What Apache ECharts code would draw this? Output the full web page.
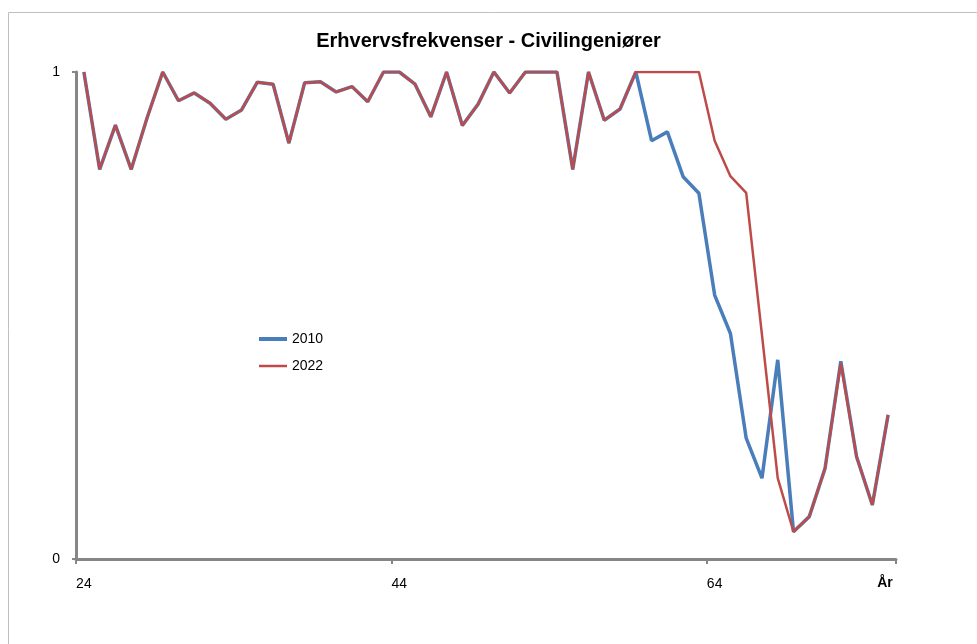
<!DOCTYPE html>
<html>
<head>
<meta charset="utf-8">
<script src="https://cdn.jsdelivr.net/npm/echarts@6/dist/echarts.min.js"></script>
<style>
html,body{margin:0;padding:0;background:#fff;}
#chart{width:977px;height:644px;}
</style>
</head>
<body>
<div id="chart"></div>
<script>
var ages = [];
for (var a = 24; a <= 75; a++) ages.push(String(a));

var series2010 = [
  1, 0.80, 0.891, 0.80, 0.905, 1, 0.941, 0.957, 0.936, 0.903,
  0.922, 0.979, 0.975, 0.854, 0.978, 0.980, 0.959, 0.970, 0.939, 1,
  1, 0.975, 0.908, 1, 0.890, 0.934, 1, 0.957, 1, 1,
  1, 0.80, 1, 0.901, 0.924, 1, 0.859, 0.877, 0.785, 0.751,
  0.542, 0.463, 0.248, 0.166, 0.409, 0.056, 0.087, 0.186, 0.406, 0.210,
  0.111, 0.296
];
var series2022 = [
  1, 0.80, 0.891, 0.80, 0.905, 1, 0.941, 0.957, 0.936, 0.903,
  0.922, 0.979, 0.975, 0.854, 0.978, 0.980, 0.959, 0.970, 0.939, 1,
  1, 0.975, 0.908, 1, 0.890, 0.934, 1, 0.957, 1, 1,
  1, 0.80, 1, 0.901, 0.924, 1, 1, 1, 1, 1,
  0.859, 0.786, 0.752, 0.46, 0.166, 0.056, 0.087, 0.186, 0.402, 0.210,
  0.111, 0.296
];
var seriesNames = ['2010', '2022'];
var titleText = 'Erhvervsfrekvenser - Civilingeniører';
var xAxisName = 'År';

var chart = echarts.init(document.getElementById('chart'), null, {renderer: 'canvas'});
var font = '"Liberation Sans", "DejaVu Sans", sans-serif';
chart.setOption({
  animation: false,
  backgroundColor: '#ffffff',
  graphic: [{
    type: 'rect', shape: {x: 8.5, y: 12.5, width: 1000, height: 700},
    style: {fill: 'none', stroke: '#bfbfbf', lineWidth: 1}, silent: true, z: -10
  }],
  title: {
    text: titleText, left: 'center', top: 26,
    textStyle: {fontFamily: font, fontSize: 20, fontWeight: 'bold', color: '#000'}
  },
  legend: {
    orient: 'vertical', left: 254, top: 327, itemGap: 13,
    itemWidth: 28, itemHeight: 14,
    itemStyle: {borderWidth: 0},
    textStyle: {fontFamily: font, fontSize: 14, color: '#000'},
    data: [
      {name: seriesNames[0], icon: 'path://M0,0L28,0M0,14L28,14M0,5H28V9H0Z'},
      {name: seriesNames[1], icon: 'path://M0,0L28,0M0,14L28,14M0,5.7H28V8.3H0Z'}
    ]
  },
  grid: {left: 76, right: 81, top: 72, bottom: 85, containLabel: false},
  xAxis: {
    type: 'category', data: ages, boundaryGap: true,
    name: xAxisName, nameLocation: 'end', nameGap: -11,
    nameTextStyle: {fontFamily: font, fontSize: 14, fontWeight: 'bold', color: '#000', align: 'center', verticalAlign: 'top', padding: [17, 0, 0, 0]},
    axisLine: {lineStyle: {color: '#868686', width: 3}},
    axisTick: {show: true, interval: 19, length: 5, lineStyle: {color: '#868686', width: 2}},
    axisLabel: {interval: 19, margin: 18, fontFamily: font, fontSize: 14, color: '#000'},
    splitLine: {show: false}
  },
  yAxis: {
    type: 'value', min: 0, max: 1, interval: 1,
    axisLine: {show: true, lineStyle: {color: '#868686', width: 3}},
    axisTick: {show: true, length: 4, lineStyle: {color: '#868686', width: 2}},
    axisLabel: {margin: 16, fontFamily: font, fontSize: 14, color: '#000'},
    splitLine: {show: false}
  },
  series: [
    {name: seriesNames[0], type: 'line', data: series2010, symbol: 'none',
     lineStyle: {color: '#4A7EBB', width: 3.5}, itemStyle: {color: '#4A7EBB'}},
    {name: seriesNames[1], type: 'line', data: series2022, symbol: 'none',
     lineStyle: {color: '#BE4B48', width: 2.5}, itemStyle: {color: '#BE4B48'}}
  ]
});
</script>
</body>
</html>
